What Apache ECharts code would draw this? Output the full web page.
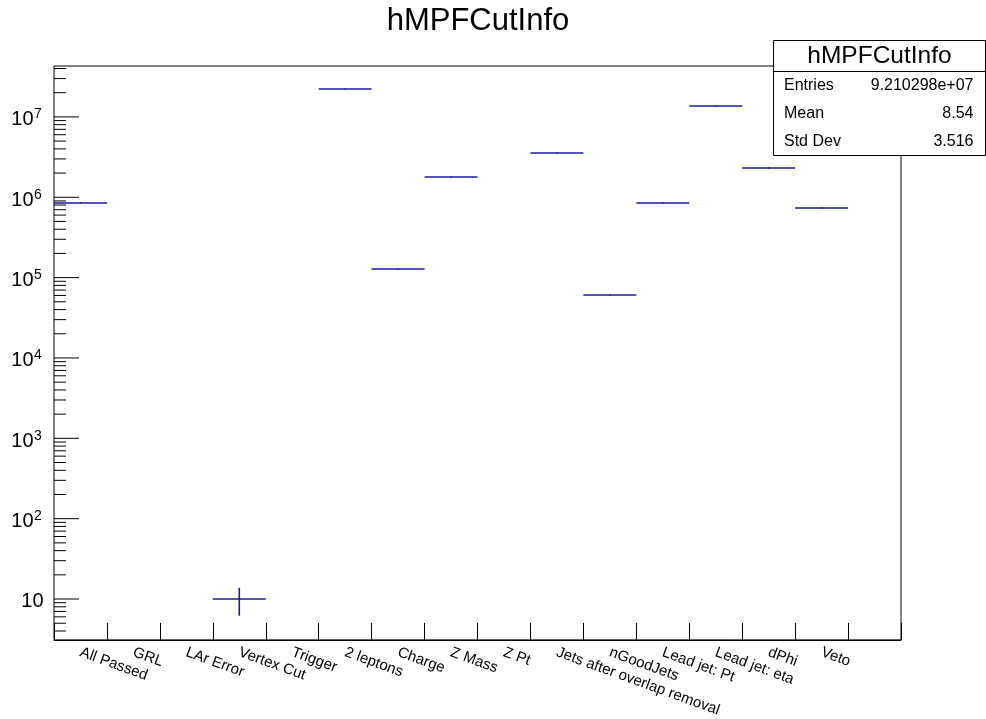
<!DOCTYPE html>
<html>
<head>
<meta charset="utf-8">
<script src="https://cdn.jsdelivr.net/npm/echarts@6/dist/echarts.min.js"></script>
<style>
  html, body { margin: 0; padding: 0; background: #fff; }
  #chart { width: 986px; height: 719px; }
</style>
</head>
<body>
<div id="chart"></div>
<script>
// Cut-flow histogram: one bin per selection step
const binLabels = ['All Passed', 'GRL', 'LAr Error', 'Vertex Cut', 'Trigger', '2 leptons', 'Charge',
  'Z Mass', 'Z Pt', 'Jets after overlap removal', 'nGoodJets', 'Lead jet: Pt', 'Lead jet: eta',
  'dPhi', 'Veto', ''];
const binContents = [8.38e5, 0, 0, 10, 0, 2.23e7, 1.29e5, 1.81e6, 0, 3.54e6, 6.15e4, 8.38e5, 1.38e7,
  2.28e6, 7.41e5, 0];
const binErrors = [915, 0, 0, 3.8, 0, 4722, 359, 1345, 0, 1881, 248, 915, 3715, 1510, 861, 0];

// Log axis decoration
const yRange = [3.1, 4.3e7];
const yMajorExponents = [1, 2, 3, 4, 5, 6, 7];
const yMinorMultipliers = [2, 3, 4, 5, 6, 7, 8, 9];

// Statistics box
const histName = 'hMPFCutInfo';
const statsRows = [['Entries', '9.210298e+07'], ['Mean', '8.54'], ['Std Dev', '3.516']];

const FONT = '"Liberation Sans", Arial, Helvetica, sans-serif';
const LINE_COLOR = '#1a1aa6';

const chart = echarts.init(document.getElementById('chart'), null, { renderer: 'canvas' });

const binData = binContents
  .map((v, i) => [i, v, binErrors[i]])
  .filter(d => d[1] > 0);

function renderBin(params, api) {
  const i = api.value(0), v = api.value(1), e = api.value(2);
  const c = api.coord([i, v]);
  const w = params.coordSys.width / binLabels.length;
  const lo = api.coord([i, Math.max(v - e, yRange[0])]);
  const hi = api.coord([i, v + e]);
  const y = Math.round(c[1]);
  const lineStyle = { stroke: LINE_COLOR, lineWidth: 1.6 };
  const children = [
    { type: 'line', shape: { x1: c[0] - w / 2, y1: y, x2: c[0] + w / 2, y2: y }, style: lineStyle }
  ];
  if (lo[1] - hi[1] > 2) {
    children.push({ type: 'line', shape: { x1: c[0], y1: lo[1], x2: c[0], y2: hi[1] }, style: lineStyle });
  } else {
    // tiny error bar: only a short dark tick at the bin centre
    children.push({ type: 'line', shape: { x1: c[0], y1: y - 0.8, x2: c[0], y2: y + 0.8 },
      style: { stroke: '#222', lineWidth: 1 } });
  }
  return { type: 'group', children };
}

function renderYAxis(params, api) {
  const x0 = params.coordSys.x;
  const children = [];
  for (let n = 0; n <= 7; n++) {
    for (const m of yMinorMultipliers) {
      const val = m * Math.pow(10, n);
      if (val < yRange[0] || val > yRange[1]) continue;
      const y = api.coord([0, val])[1];
      children.push({ type: 'line', shape: { x1: x0, y1: y, x2: x0 + 12, y2: y },
        style: { stroke: '#000', lineWidth: 1 } });
    }
  }
  for (const e of yMajorExponents) {
    const y = api.coord([0, Math.pow(10, e)])[1];
    children.push({ type: 'line', shape: { x1: x0, y1: y, x2: x0 + 25, y2: y },
      style: { stroke: '#000', lineWidth: 1 } });
    if (e === 1) {
      children.push({ type: 'text', x: 43.5, y: y + 2.5,
        style: { text: '10', font: '20px ' + FONT, fill: '#000', align: 'right', verticalAlign: 'middle' } });
    } else {
      children.push({ type: 'text', x: 33.5, y: y + 3,
        style: { text: '10', font: '20px ' + FONT, fill: '#000', align: 'right', verticalAlign: 'middle' } });
      children.push({ type: 'text', x: 34, y: y - 2.5,
        style: { text: String(e), font: '14px ' + FONT, fill: '#000', align: 'left', verticalAlign: 'middle' } });
    }
  }
  return { type: 'group', children };
}

const statsGraphic = [
  { type: 'rect', shape: { x: 773.5, y: 40.5, width: 212, height: 115 },
    style: { fill: '#fff', stroke: '#000', lineWidth: 1 }, z: 100 },
  { type: 'line', shape: { x1: 773.5, y1: 71.5, x2: 985.5, y2: 71.5 },
    style: { stroke: '#000', lineWidth: 1 }, z: 101 },
  { type: 'text', x: 879.5, y: 56.5, z: 101,
    style: { text: histName, font: '24.5px ' + FONT, fill: '#000', align: 'center', verticalAlign: 'middle' } }
];
statsRows.forEach((row, k) => {
  const y = 85.5 + k * 28;
  statsGraphic.push({ type: 'text', x: 784, y, z: 101,
    style: { text: row[0], font: '16px ' + FONT, fill: '#000', align: 'left', verticalAlign: 'middle' } });
  statsGraphic.push({ type: 'text', x: 973.5, y, z: 101,
    style: { text: row[1], font: '16px ' + FONT, fill: '#000', align: 'right', verticalAlign: 'middle' } });
});

chart.setOption({
  animation: false,
  backgroundColor: '#fff',
  grid: { left: 54, top: 66, width: 847, height: 575, show: true, borderColor: '#000', borderWidth: 1,
    backgroundColor: 'transparent', containLabel: false },
  xAxis: {
    type: 'category',
    data: binLabels,
    boundaryGap: true,
    axisLine: { show: true, lineStyle: { color: '#000', width: 1 } },
    axisTick: { show: true, inside: true, length: 17, interval: 0, lineStyle: { color: '#000', width: 1 } },
    axisLabel: { show: true, interval: 0, rotate: -20, margin: 12, fontSize: 15, fontFamily: FONT, color: '#000' },
    splitLine: { show: false }
  },
  yAxis: {
    type: 'log',
    logBase: 10,
    min: yRange[0],
    max: yRange[1],
    axisLine: { show: false },
    axisTick: { show: false },
    axisLabel: { show: false },
    splitLine: { show: false },
    minorTick: { show: false }
  },
  series: [
    { type: 'custom', name: 'axis', data: [[0, 10]], renderItem: renderYAxis, clip: false, silent: true, z: 3 },
    { type: 'custom', name: histName, data: binData, renderItem: renderBin, clip: true, silent: true, z: 4 }
  ],
  graphic: [
    { type: 'text', x: 478, y: 21,
      style: { text: histName, font: '31px ' + FONT, fill: '#000', align: 'center', verticalAlign: 'middle' } },
    ...statsGraphic
  ]
});
</script>
</body>
</html>
